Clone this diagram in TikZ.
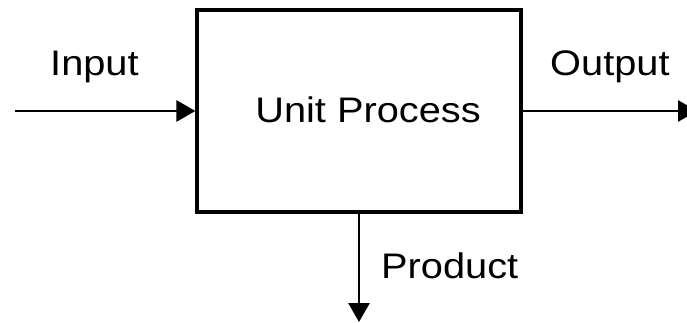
\documentclass[tikz,border=0pt]{standalone}
\usepackage{fontspec}
\setmainfont[FakeStretch=1.12]{Liberation Sans}
\usetikzlibrary{arrows.meta}

\begin{document}
\begin{tikzpicture}[x=1pt, y=-1pt,
	flow/.style={line width=2.8pt, -{Triangle[length=19pt, width=21pt]}},
	txt/.style={font=\fontsize{35.5}{40}\selectfont, inner sep=0pt}]
	\useasboundingbox (0,0) rectangle (687,323);
	\clip (0,0) rectangle (687,323);

	\node[draw, line width=3.2pt, minimum width=324pt, minimum height=202pt] (unit) at (359,111) {};
	\node[txt, anchor=base] (unitlabel) at (368,123) {Unit Process};

	\coordinate (source) at (15,111);
	\coordinate (sink) at (697,111);
	\coordinate (drain) at (359,322);

	\draw[flow] (source) -- (unit.west);
	\draw[flow] (unit.east) -- (sink);
	\draw[flow] (unit.south) -- (drain);

	\node[txt, anchor=base west] (input) at (50,76) {Input};
	\node[txt, anchor=base west] (output) at (550,76) {Output};
	\node[txt, anchor=base west] (product) at (381,278) {Product};

\end{tikzpicture}
\end{document}
